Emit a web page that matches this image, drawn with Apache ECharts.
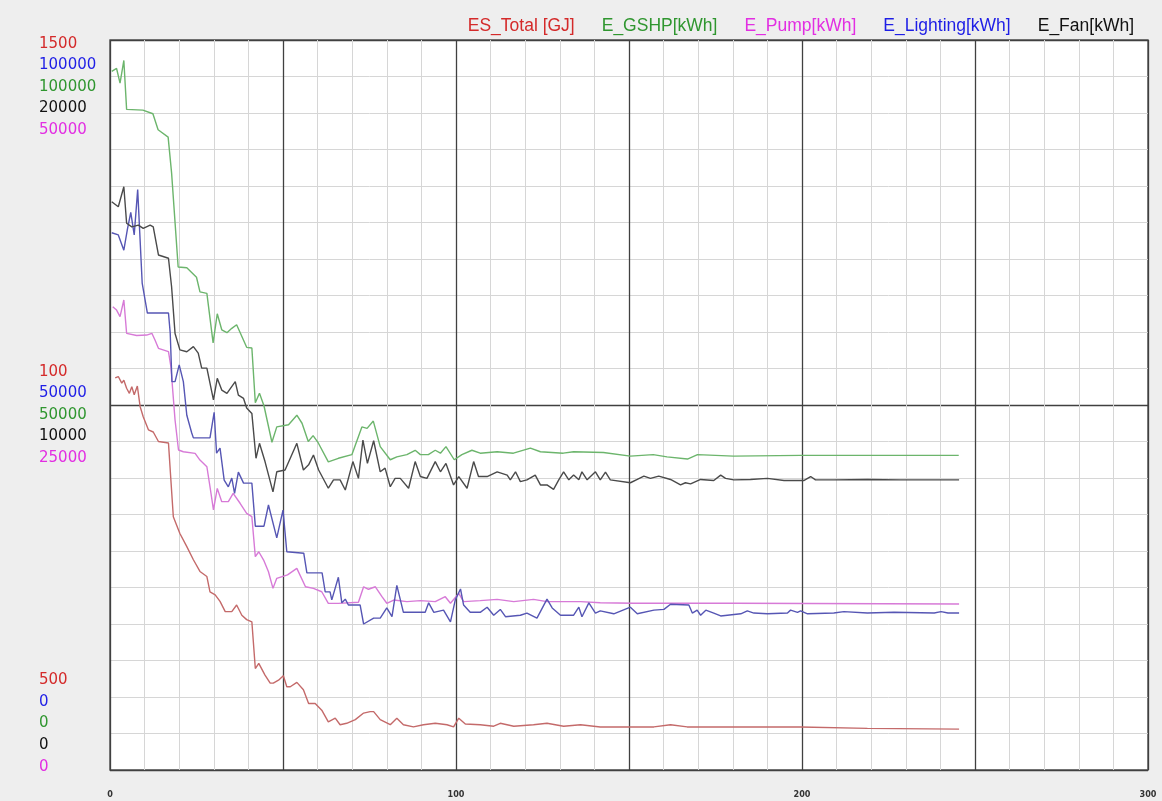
<!DOCTYPE html>
<html><head><meta charset="utf-8">
<script src="https://cdn.jsdelivr.net/npm/echarts/dist/echarts.min.js"></script>
<style>html,body{margin:0;padding:0;background:#eeeeee}#c{width:1162px;height:801px}</style>
</head><body><div id="c"></div>
<script>
// ---- data ----
const legendNames = ['ES_Total [GJ]', 'E_GSHP[kWh]', 'E_Pump[kWh]', 'E_Lighting[kWh]', 'E_Fan[kWh]'];
const xTickLabels = ['0', '100', '200', '300'];
// left scale labels, order: ES_Total, Lighting, GSHP, Fan, Pump
const topLabels = ['1500', '100000', '100000', '20000', '50000'];
const midLabels = ['100', '50000', '50000', '10000', '25000'];
const bottomLabels = ['500', '0', '0', '0', '0'];

const totalX = [1.5,2.4,3.4,4,4.8,5.6,6.3,7,7.9,8.7,9.6,11.1,12.5,14,16.9,17.6,18.3,20.2,22.2,24.1,26,28,28.9,30.4,31.8,33.3,35.2,36.6,38.1,39.5,41,42,43,44.8,46.3,47.2,48.7,50.1,51.1,52.1,54,55.9,57.4,59.3,61.2,63.1,65.1,66.5,68.4,70.9,73.3,75.2,76.2,78.1,81,82.9,84.8,87.7,90.6,94,97.4,99.3,100.8,102.7,107,110.9,112.8,116.7,122.4,126.3,131.1,136,141.7,150.4,157.2,162,166.8,172.6,180.3,199.6,218.9,245.4];
const totalY = [1037,1039,1030,1034,1023,1016,1025,1014,1026,998,984,966,963,950,948,897,847,824,806,788,772,765,744,740,731,717,717,726,712,706,703,639,646,630,619,619,623,629,614,614,620,610,591,591,582,566,571,562,564,569,578,580,580,569,562,571,562,559,562,564,562,559,571,563,562,560,564,560,562,564,560,562,559,559,559,562,559,559,559,559,557,556];

const gshpX = [0.5,1.9,2.9,4,4.8,9.5,12.4,13.9,16.8,17.8,19.7,22.2,25,26,28,29.8,31,32.3,33.8,35.2,36.6,39.5,41,42,43.2,44.5,46.8,48.2,51.6,54,55.5,57.3,58.7,60.2,63.1,66,69.9,72.8,74.3,76.1,78.1,81,82.9,85.8,88.2,89.7,92,94,95.5,97.1,99.5,101.7,104.6,107,111.9,116.6,121.5,124.4,131,134,142.6,150.4,157,161,166.9,169.8,180.2,199.6,245.3];
const gshpY = [95700,96100,94100,97200,90500,90400,89900,87700,86700,81800,68900,68800,67500,65500,65300,58500,62500,60300,59900,60500,61000,57900,57800,50300,51600,49900,44900,47000,47300,48600,47500,45000,45800,44800,42200,42700,43200,47000,46800,47800,44300,42500,42900,43200,43800,43200,43200,43800,43400,44300,42500,43200,43800,43400,43600,43400,44100,43600,43400,43600,43500,43000,43200,42900,42600,43200,43000,43100,43100];

const pumpX = [0.8,1.9,2.9,4,4.8,7.7,10.6,12.1,13,14,16.9,17.6,18.8,19.8,21.2,24.6,26,28,28.9,29.9,31,32.3,34.2,35.6,37.6,39.5,41,42,43,44.4,45.8,47.1,48.2,51.3,54,56.5,58.8,61.2,63.1,66,71.8,73.3,74.7,76.7,78.6,80,82,85.8,89.7,94,96.9,98.4,100.8,102.2,107,111.9,116.7,122.4,126.3,136,141.7,151.4,161,180.3,245.4];
const pumpY = [31730,31500,31050,32190,29910,29760,29790,29910,29450,28880,28650,27620,23970,21920,21800,21690,21230,20770,19400,17810,19290,18380,18380,18950,18270,17580,17350,14610,14950,14380,13580,12440,13130,13360,13810,12550,12440,12210,11410,11410,11490,12550,12380,12550,11870,11420,11640,11530,11600,11530,11870,11420,12100,11530,11600,11690,11530,11690,11530,11530,11460,11420,11420,11420,11370];

const lightX = [0.5,2.4,4,5,6,7,8,8.6,9.3,10.8,16.9,17.4,17.9,18.8,20,21.2,22.2,23.6,24.1,28.9,30.1,30.8,31.8,33,34.2,35.2,36,37.1,38.6,41,42,44.5,45.8,48.2,50,51.1,56,56.9,61.3,62.2,63.6,64.1,66,67,68,68.9,72.3,73.3,76.2,78.1,80,81.5,82.9,84.8,91.1,92.1,93.6,96.4,98.4,99.8,101.3,102.2,104.1,107,109,110.9,112.8,114.3,118.6,120.5,123.4,126.3,127.8,130.2,134,135.5,136.4,138.4,140.3,141.7,145.6,150.4,152.4,157.2,160.1,162,167.3,168.3,169.7,170.7,172.2,174.5,176.5,182.3,184.2,186.1,190,195.8,196.7,198.7,199.6,201.6,209.2,212.1,218.9,226.6,238.2,240.2,242.2,245.4];
const lightY = [73600,73300,71200,74000,76400,73300,79500,73600,66700,62600,62600,59900,53200,53200,55500,53200,48600,46200,45500,45500,49000,43400,44100,39700,38800,40000,37900,40800,39300,39300,33400,33400,36300,31800,35600,29900,29700,27000,27000,24400,24400,23300,26400,22900,23400,22600,22600,20000,20800,20800,22200,21000,25300,21600,21600,22900,21600,21900,20300,23300,24800,22600,21600,21600,22300,21200,22000,21000,21200,21500,20800,23400,22200,21200,21200,22300,21000,22900,21500,21800,21400,22300,21400,21900,22000,22700,22600,21500,21900,21200,21900,21500,21100,21400,21800,21500,21400,21500,21900,21600,21800,21400,21500,21700,21500,21600,21500,21700,21500,21500];

const fanX = [0.5,2.4,4,4.8,6.3,8.2,9.6,11.6,12.5,14,16.9,17.8,18.8,20.2,22.2,24.1,25.5,26.5,28,29.9,31,32.3,33.8,36.2,37.1,38.6,39.5,41,42.2,43.2,44.8,47.1,48.2,50.6,52.1,54,55.9,57.4,58.8,60.3,63.1,64.6,66.5,68,70.2,71.8,73.1,74.4,76.2,78.1,79.5,81,82.4,83.9,86.3,88.2,89.7,91.6,94,95.5,97.1,99.3,100.8,103.2,105.1,106.5,109,111.9,114.8,115.7,117.2,118.6,120.5,122.9,124.4,126.3,128.2,129.7,131.1,132.6,134,135.5,136.4,137.9,140.3,141.7,143.2,144.6,150.4,152.4,154.3,156.2,158.6,162,164.9,166.3,167.8,170.7,174.5,176.5,177.9,180.3,185.1,190,194.8,200.5,202.5,203.9,209.2,218.9,228.5,238.2,245.4];
const fanY = [15570,15430,15980,14980,14880,14930,14840,14930,14880,14110,14020,13240,11960,11510,11460,11600,11420,11010,11010,10140,10730,10410,10320,10640,10270,10180,9920,9770,8540,8950,8450,7620,8170,8220,8540,8950,8220,8360,8630,8220,7720,7950,7950,7670,8450,7990,9040,8400,9020,8170,8270,7760,7990,7990,7720,8450,8040,7990,8450,8170,8400,7810,8040,7720,8450,8040,8040,8170,8080,7950,8170,7900,7950,8080,7810,7810,7690,7950,8170,7950,8080,7950,8170,7950,8170,7950,8160,7950,7870,7960,8050,7990,8050,7960,7810,7870,7840,7960,7930,8080,7990,7950,7960,7990,7930,7930,8040,7950,7950,7960,7950,7950,7950];

// ---- style ----
const textColors = { total: '#d42a2a', gshp: '#2f962f', pump: '#e22ee2', light: '#1e1ee6', fan: '#111111' };
const lineColors = { total: '#c46a6a', gshp: '#6cb56c', pump: '#d77ad7', light: '#5656b4', fan: '#4a4a4a' };
const labelColorOrder = [textColors.total, textColors.light, textColors.gshp, textColors.fan, textColors.pump];

const G = { left: 110, right: 14, top: 40, bottom: 31 };
const H = 801, plotBottom = H - G.bottom, plotMid = (G.top + plotBottom) / 2;
const lh = 21.6;

const chart = echarts.init(document.getElementById('c'), null, { renderer: 'canvas' });

const pairs = (xs, ys) => xs.map((x, i) => [x, ys[i]]);
const mkSeries = (name, xs, ys, axis, color) => ({
  name, type: 'line', xAxisIndex: 0, yAxisIndex: axis, data: pairs(xs, ys),
  showSymbol: false, symbol: 'none', lineStyle: { color, width: 1.4 }, itemStyle: { color },
  emphasis: { disabled: true }, silent: true
});

const labelFont = '15px "DejaVu Sans", sans-serif';
const graphics = [];
function addGroup(texts, yStart) {
  texts.forEach((t, i) => graphics.push({
    type: 'text', left: 39, top: yStart + i * lh - lh / 2 + 2,
    style: { text: t, fill: labelColorOrder[i], font: labelFont }
  }));
}
addGroup(topLabels, G.top + 5);
addGroup(midLabels, plotMid - 32);
addGroup(bottomLabels, plotBottom - 2 - 4 * lh);

const legendColors = [textColors.total, textColors.gshp, textColors.pump, textColors.light, textColors.fan];

chart.setOption({
  backgroundColor: '#eeeeee',
  animation: false,
  grid: { left: G.left, right: G.right, top: G.top, bottom: G.bottom, show: true, backgroundColor: '#ffffff', borderColor: '#5a5a5a', borderWidth: 1.5 },
  legend: {
    right: 23, top: 12, icon: 'none', itemWidth: 0, itemGap: 22,
    textStyle: { fontSize: 17.5, fontFamily: '"Liberation Sans", Arial, sans-serif' },
    data: legendNames.map((n, i) => ({ name: n, textStyle: { color: legendColors[i] } })),
    selectedMode: false
  },
  xAxis: [
    { type: 'value', min: 0, max: 300, interval: 10,
      axisLine: { show: false }, axisTick: { show: false },
      splitLine: { show: true, lineStyle: { color: '#d6d6d6', width: 1 } },
      axisLabel: { margin: 20, fontSize: 9, fontWeight: 'bold', color: '#333',
        fontFamily: '"DejaVu Sans Condensed", sans-serif',
        formatter: v => (xTickLabels.indexOf(String(v)) >= 0 ? String(v) : '') } },
    { type: 'value', min: 0, max: 300, interval: 50, position: 'bottom',
      axisLine: { show: false }, axisTick: { show: false }, axisLabel: { show: false },
      splitLine: { show: true, lineStyle: { color: '#404040', width: 1.3 } } }
  ],
  yAxis: [
    { type: 'value', min: 0, max: 20, interval: 1, axisLine: { show: false }, axisTick: { show: false }, axisLabel: { show: false },
      splitLine: { show: true, lineStyle: { color: '#d6d6d6', width: 1 } } },
    { type: 'value', min: 0, max: 2, interval: 1, axisLine: { show: false }, axisTick: { show: false }, axisLabel: { show: false },
      splitLine: { show: true, lineStyle: { color: '#404040', width: 1.3 } } },
    { type: 'value', show: false, min: 500, max: 1500 },
    { type: 'value', show: false, min: 0, max: 100000 },
    { type: 'value', show: false, min: 0, max: 50000 },
    { type: 'value', show: false, min: 0, max: 100000 },
    { type: 'value', show: false, min: 0, max: 20000 }
  ],
  graphic: graphics,
  series: [
    mkSeries(legendNames[0], totalX, totalY, 2, lineColors.total),
    mkSeries(legendNames[1], gshpX, gshpY, 3, lineColors.gshp),
    mkSeries(legendNames[2], pumpX, pumpY, 4, lineColors.pump),
    mkSeries(legendNames[3], lightX, lightY, 5, lineColors.light),
    mkSeries(legendNames[4], fanX, fanY, 6, lineColors.fan)
  ]
});
</script></body></html>
